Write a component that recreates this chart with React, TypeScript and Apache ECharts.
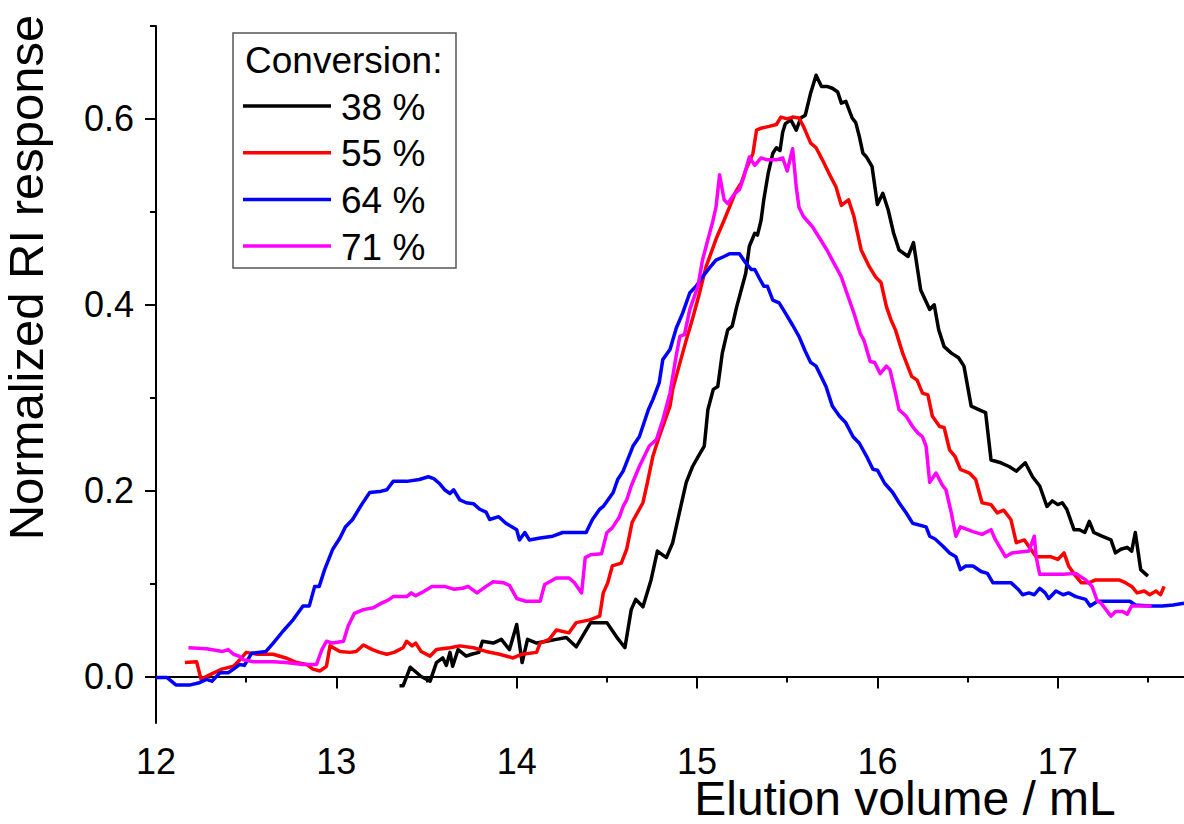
import React, { useEffect, useRef } from "react";
import * as echarts from "echarts";

const FONT = "'Liberation Sans', Arial, sans-serif";

const seriesNames = ["38 %", "55 %", "64 %", "71 %"];
const seriesColors = ["#000000", "#ff0000", "#0000ff", "#ff00ff"];

const xMajorTicks = [12, 13, 14, 15, 16, 17];
const xMinorTicks = [12.5, 13.5, 14.5, 15.5, 16.5, 17.5];
const yMajorTicks = [0, 0.2, 0.4, 0.6];
const yMinorTicks = [0.1, 0.3, 0.5, 0.7];

const conv38: [number, number][] = [
  [13.35, -0.01], [13.37, -0.01], [13.41, 0.01], [13.47, 0.0], [13.52, -0.005], [13.555, 0.015],
  [13.59, 0.02], [13.61, 0.012], [13.63, 0.026], [13.645, 0.011], [13.675, 0.029], [13.72, 0.022],
  [13.75, 0.024], [13.79, 0.026], [13.81, 0.038], [13.87, 0.036], [13.915, 0.04], [13.96, 0.029],
  [14.0, 0.056], [14.03, 0.015], [14.06, 0.04], [14.11, 0.036], [14.165, 0.038], [14.22, 0.04],
  [14.275, 0.042], [14.33, 0.032], [14.385, 0.05], [14.41, 0.058], [14.5, 0.058], [14.56, 0.041],
  [14.6, 0.031], [14.635, 0.072], [14.66, 0.083], [14.7, 0.075], [14.745, 0.104], [14.78, 0.135],
  [14.83, 0.128], [14.865, 0.144], [14.89, 0.166], [14.94, 0.209], [14.975, 0.226], [15.01, 0.238],
  [15.04, 0.248], [15.06, 0.287], [15.09, 0.309], [15.115, 0.312], [15.14, 0.348], [15.17, 0.373],
  [15.195, 0.377], [15.22, 0.398], [15.27, 0.434], [15.29, 0.463], [15.32, 0.477], [15.335, 0.475],
  [15.355, 0.491], [15.37, 0.513], [15.395, 0.542], [15.42, 0.563], [15.44, 0.569], [15.46, 0.566],
  [15.475, 0.586], [15.49, 0.595], [15.52, 0.599], [15.55, 0.588], [15.575, 0.601], [15.6, 0.604],
  [15.63, 0.628], [15.66, 0.647], [15.69, 0.635], [15.72, 0.635], [15.75, 0.633], [15.78, 0.629],
  [15.8, 0.617], [15.825, 0.619], [15.86, 0.601], [15.88, 0.596], [15.9, 0.581], [15.92, 0.563],
  [15.94, 0.559], [15.97, 0.549], [16.0, 0.508], [16.03, 0.52], [16.06, 0.502], [16.09, 0.477],
  [16.12, 0.459], [16.17, 0.452], [16.2, 0.467], [16.24, 0.416], [16.29, 0.395], [16.315, 0.4],
  [16.34, 0.373], [16.37, 0.355], [16.41, 0.348], [16.45, 0.343], [16.48, 0.334], [16.52, 0.291],
  [16.565, 0.287], [16.6, 0.284], [16.63, 0.233], [16.685, 0.23], [16.73, 0.226], [16.77, 0.221],
  [16.82, 0.23], [16.86, 0.215], [16.9, 0.205], [16.94, 0.183], [16.97, 0.189], [17.0, 0.185],
  [17.025, 0.187], [17.05, 0.18], [17.09, 0.158], [17.12, 0.158], [17.15, 0.155], [17.175, 0.167],
  [17.2, 0.155], [17.245, 0.151], [17.295, 0.147], [17.32, 0.133], [17.35, 0.137], [17.385, 0.139],
  [17.41, 0.135], [17.43, 0.155], [17.46, 0.115], [17.5, 0.108],
];

const conv55: [number, number][] = [
  [12.16, 0.015], [12.225, 0.016], [12.25, -0.003], [12.3, 0.002], [12.365, 0.008], [12.43, 0.011],
  [12.465, 0.018], [12.5, 0.026], [12.56, 0.024], [12.65, 0.024], [12.72, 0.02], [12.78, 0.015],
  [12.835, 0.013], [12.87, 0.008], [12.91, 0.006], [12.945, 0.011], [12.965, 0.033], [13.02, 0.027],
  [13.075, 0.026], [13.11, 0.027], [13.15, 0.034], [13.2, 0.029], [13.24, 0.026], [13.28, 0.024],
  [13.32, 0.026], [13.37, 0.031], [13.39, 0.038], [13.42, 0.033], [13.44, 0.036], [13.47, 0.027],
  [13.52, 0.022], [13.555, 0.029], [13.63, 0.031], [13.685, 0.033], [13.76, 0.031], [13.83, 0.027],
  [13.905, 0.024], [13.98, 0.02], [14.03, 0.024], [14.11, 0.026], [14.13, 0.036], [14.18, 0.04],
  [14.22, 0.05], [14.29, 0.047], [14.33, 0.058], [14.405, 0.061], [14.46, 0.065], [14.48, 0.09],
  [14.505, 0.101], [14.53, 0.119], [14.58, 0.122], [14.61, 0.137], [14.64, 0.166], [14.7, 0.187],
  [14.725, 0.209], [14.755, 0.237], [14.79, 0.258], [14.85, 0.291], [14.865, 0.309], [14.9, 0.334],
  [14.94, 0.362], [14.975, 0.385], [15.01, 0.41], [15.05, 0.441], [15.11, 0.473], [15.15, 0.491],
  [15.19, 0.51], [15.215, 0.522], [15.245, 0.531], [15.27, 0.545], [15.31, 0.563], [15.33, 0.588],
  [15.355, 0.59], [15.4, 0.592], [15.44, 0.594], [15.465, 0.602], [15.5, 0.6], [15.53, 0.602],
  [15.565, 0.601], [15.59, 0.592], [15.63, 0.574], [15.66, 0.569], [15.695, 0.556], [15.73, 0.542],
  [15.77, 0.527], [15.8, 0.507], [15.84, 0.513], [15.87, 0.495], [15.91, 0.459], [15.955, 0.441],
  [15.99, 0.43], [16.02, 0.424], [16.05, 0.398], [16.075, 0.384], [16.1, 0.373], [16.14, 0.348],
  [16.19, 0.323], [16.22, 0.319], [16.25, 0.305], [16.28, 0.303], [16.305, 0.28], [16.345, 0.269],
  [16.37, 0.268], [16.4, 0.244], [16.43, 0.237], [16.46, 0.223], [16.51, 0.219], [16.545, 0.212],
  [16.58, 0.187], [16.63, 0.185], [16.665, 0.176], [16.7, 0.179], [16.74, 0.169], [16.77, 0.144],
  [16.815, 0.147], [16.84, 0.14], [16.88, 0.129], [16.96, 0.129], [17.0, 0.126], [17.035, 0.133],
  [17.06, 0.119], [17.1, 0.108], [17.13, 0.101], [17.175, 0.101], [17.21, 0.104], [17.295, 0.104],
  [17.34, 0.104], [17.375, 0.101], [17.41, 0.097], [17.44, 0.09], [17.48, 0.092], [17.51, 0.088],
  [17.545, 0.092], [17.57, 0.088], [17.59, 0.097],
];

const conv64: [number, number][] = [
  [12.0, -0.001], [12.06, -0.001], [12.11, -0.009], [12.19, -0.009], [12.235, -0.007], [12.28, -0.003],
  [12.31, -0.005], [12.355, 0.004], [12.4, 0.004], [12.43, 0.008], [12.465, 0.013], [12.49, 0.012],
  [12.53, 0.025], [12.61, 0.027], [12.65, 0.036], [12.705, 0.049], [12.76, 0.061], [12.815, 0.076],
  [12.85, 0.076], [12.88, 0.097], [12.905, 0.097], [12.935, 0.115], [12.98, 0.137], [13.02, 0.149],
  [13.05, 0.161], [13.09, 0.169], [13.14, 0.185], [13.185, 0.198], [13.24, 0.199], [13.28, 0.201],
  [13.315, 0.21], [13.39, 0.21], [13.46, 0.212], [13.51, 0.215], [13.54, 0.213], [13.57, 0.208],
  [13.6, 0.201], [13.63, 0.197], [13.65, 0.201], [13.685, 0.19], [13.72, 0.187], [13.76, 0.186],
  [13.795, 0.18], [13.83, 0.177], [13.85, 0.169], [13.9, 0.172], [13.94, 0.165], [14.0, 0.158],
  [14.015, 0.147], [14.045, 0.155], [14.07, 0.147], [14.13, 0.149], [14.2, 0.151], [14.255, 0.155],
  [14.32, 0.155], [14.385, 0.155], [14.42, 0.169], [14.46, 0.18], [14.48, 0.183], [14.535, 0.198],
  [14.56, 0.212], [14.59, 0.221], [14.645, 0.248], [14.68, 0.258], [14.73, 0.287], [14.755, 0.298],
  [14.79, 0.316], [14.81, 0.341], [14.85, 0.352], [14.885, 0.375], [14.92, 0.391], [14.96, 0.413],
  [14.995, 0.42], [15.03, 0.43], [15.07, 0.44], [15.105, 0.448], [15.15, 0.452], [15.18, 0.455],
  [15.235, 0.455], [15.27, 0.445], [15.3, 0.438], [15.32, 0.438], [15.35, 0.427], [15.37, 0.42],
  [15.39, 0.42], [15.42, 0.405], [15.455, 0.402], [15.49, 0.391], [15.53, 0.378], [15.565, 0.366],
  [15.6, 0.35], [15.63, 0.338], [15.66, 0.334], [15.715, 0.312], [15.75, 0.291], [15.79, 0.28],
  [15.825, 0.273], [15.865, 0.258], [15.9, 0.251], [15.94, 0.237], [15.975, 0.223], [16.0, 0.222],
  [16.04, 0.208], [16.085, 0.198], [16.12, 0.187], [16.16, 0.176], [16.195, 0.165], [16.27, 0.161],
  [16.29, 0.151], [16.32, 0.148], [16.365, 0.14], [16.4, 0.133], [16.435, 0.129], [16.46, 0.115],
  [16.49, 0.119], [16.53, 0.119], [16.575, 0.113], [16.61, 0.111], [16.64, 0.101], [16.74, 0.101],
  [16.78, 0.094], [16.805, 0.088], [16.84, 0.09], [16.87, 0.088], [16.9, 0.095], [16.93, 0.09],
  [16.95, 0.084], [16.99, 0.092], [17.03, 0.088], [17.06, 0.09], [17.1, 0.086], [17.155, 0.083],
  [17.18, 0.076], [17.22, 0.081], [17.285, 0.081], [17.4, 0.081], [17.43, 0.077], [17.51, 0.076],
  [17.58, 0.076], [17.64, 0.077], [17.7, 0.079],
];

const conv71: [number, number][] = [
  [12.18, 0.031], [12.28, 0.03], [12.37, 0.027], [12.4, 0.029], [12.43, 0.024], [12.46, 0.022],
  [12.485, 0.018], [12.54, 0.016], [12.65, 0.016], [12.72, 0.015], [12.815, 0.013], [12.89, 0.013],
  [12.92, 0.029], [12.945, 0.038], [12.98, 0.036], [13.04, 0.038], [13.065, 0.054], [13.1, 0.068],
  [13.15, 0.072], [13.205, 0.074], [13.25, 0.079], [13.285, 0.082], [13.315, 0.086], [13.39, 0.086],
  [13.415, 0.09], [13.44, 0.087], [13.47, 0.09], [13.53, 0.097], [13.57, 0.097], [13.6, 0.097],
  [13.65, 0.094], [13.7, 0.095], [13.73, 0.097], [13.78, 0.09], [13.83, 0.097], [13.87, 0.102],
  [13.925, 0.101], [13.96, 0.098], [14.0, 0.084], [14.05, 0.081], [14.13, 0.081], [14.155, 0.099],
  [14.22, 0.106], [14.29, 0.106], [14.32, 0.101], [14.36, 0.09], [14.38, 0.128], [14.41, 0.131],
  [14.47, 0.132], [14.5, 0.155], [14.53, 0.16], [14.57, 0.172], [14.59, 0.183], [14.61, 0.19],
  [14.635, 0.205], [14.68, 0.226], [14.735, 0.248], [14.775, 0.255], [14.81, 0.276], [14.85, 0.305],
  [14.885, 0.346], [14.905, 0.366], [14.93, 0.368], [14.96, 0.395], [15.005, 0.42], [15.03, 0.448],
  [15.06, 0.47], [15.085, 0.488], [15.105, 0.505], [15.125, 0.54], [15.15, 0.513], [15.17, 0.509],
  [15.21, 0.52], [15.235, 0.524], [15.26, 0.538], [15.29, 0.559], [15.32, 0.55], [15.355, 0.558],
  [15.39, 0.556], [15.44, 0.556], [15.475, 0.558], [15.5, 0.544], [15.53, 0.568], [15.55, 0.527],
  [15.565, 0.505], [15.59, 0.495], [15.64, 0.484], [15.685, 0.47], [15.72, 0.459], [15.75, 0.448],
  [15.8, 0.43], [15.83, 0.413], [15.87, 0.391], [15.905, 0.369], [15.925, 0.362], [15.96, 0.339],
  [15.985, 0.338], [16.015, 0.326], [16.05, 0.334], [16.07, 0.33], [16.1, 0.305], [16.12, 0.287],
  [16.16, 0.28], [16.195, 0.269], [16.225, 0.262], [16.25, 0.258], [16.27, 0.248], [16.29, 0.209],
  [16.325, 0.219], [16.36, 0.206], [16.38, 0.201], [16.41, 0.176], [16.435, 0.151], [16.46, 0.161],
  [16.53, 0.156], [16.58, 0.153], [16.63, 0.158], [16.655, 0.147], [16.71, 0.129], [16.745, 0.133],
  [16.84, 0.135], [16.87, 0.151], [16.88, 0.129], [16.9, 0.11], [17.03, 0.11], [17.1, 0.111],
  [17.155, 0.104], [17.19, 0.097], [17.22, 0.081], [17.24, 0.079], [17.295, 0.065], [17.32, 0.07],
  [17.36, 0.07], [17.385, 0.067], [17.41, 0.076], [17.465, 0.076], [17.52, 0.076],
];

const seriesData = [conv38, conv55, conv64, conv71];

export default function App() {
  const ref = useRef<HTMLDivElement>(null);

  useEffect(() => {
    if (!ref.current) return;
    const chart = echarts.init(ref.current, undefined, { renderer: "svg" });

    const legendTop = 33;
    const legendLeft = 233;
    const itemY0 = 106;
    const itemStep = 46.7;

    const legendGraphics: any[] = [
      {
        type: "rect",
        shape: { x: legendLeft, y: legendTop, width: 223, height: 235 },
        style: { fill: "#ffffff", stroke: "#555555", lineWidth: 1.5 },
        z: 100,
      },
      {
        type: "text",
        x: 245,
        y: 60,
        style: {
          text: "Conversion:",
          font: `37px ${FONT}`,
          fill: "#000",
          textVerticalAlign: "middle",
          verticalAlign: "middle",
        },
        z: 101,
      },
    ];
    seriesNames.forEach((name, i) => {
      const y = itemY0 + i * itemStep;
      legendGraphics.push({
        type: "line",
        shape: { x1: 243, y1: y, x2: 331, y2: y },
        style: { stroke: seriesColors[i], lineWidth: 3.5 },
        z: 101,
      });
      legendGraphics.push({
        type: "text",
        x: 341,
        y: y + 1,
        style: {
          text: name,
          font: `37px ${FONT}`,
          fill: "#000",
          verticalAlign: "middle",
          textVerticalAlign: "middle",
        },
        z: 101,
      });
    });

    const axisLineStyle = { color: "#000", width: 2 };

    chart.setOption({
      animation: false,
      backgroundColor: "#ffffff",
      grid: {
        left: 156,
        right: 0,
        top: 26,
        bottom: 101,
        containLabel: false,
        outerBoundsMode: "none",
      },
      xAxis: [
        {
          type: "value",
          min: 12,
          max: 17.7,
          position: "bottom",
          name: "Elution volume / mL",
          nameLocation: "middle",
          nameGap: 55,
          nameMoveOverlap: false,
          nameTextStyle: {
            fontFamily: FONT,
            fontSize: 48,
            lineHeight: 40,
            color: "#000",
            padding: [0, 0, 0, 470],
            verticalAlign: "top",
          },
          axisLine: { show: true, lineStyle: axisLineStyle },
          axisTick: { show: true, length: 12, lineStyle: axisLineStyle, customValues: xMajorTicks },
          axisLabel: {
            show: true,
            customValues: xMajorTicks,
            fontFamily: FONT,
            fontSize: 36,
            lineHeight: 30,
            color: "#000",
            margin: 23,
            formatter: (v: number) => String(v),
          },
          splitLine: { show: false },
        },
        {
          type: "value",
          min: 12,
          max: 17.7,
          position: "bottom",
          axisLine: { show: false },
          axisTick: { show: true, length: 6, lineStyle: axisLineStyle, customValues: xMinorTicks },
          axisLabel: { show: false },
          splitLine: { show: false },
        },
      ],
      yAxis: [
        {
          type: "value",
          min: -0.05,
          max: 0.7,
          position: "left",
          name: "Normalized RI response",
          nameLocation: "middle",
          nameGap: 106,
          nameMoveOverlap: false,
          nameRotate: 90,
          nameTextStyle: {
            fontFamily: FONT,
            fontSize: 49,
            color: "#000",
            padding: [0, 0, 0, 194],
          },
          axisLine: { show: true, lineStyle: axisLineStyle },
          axisTick: { show: true, length: 11, lineStyle: axisLineStyle, customValues: yMajorTicks },
          axisLabel: {
            show: true,
            customValues: yMajorTicks,
            fontFamily: FONT,
            fontSize: 36,
            color: "#000",
            margin: 22,
            formatter: (v: number) => v.toFixed(1),
          },
          splitLine: { show: false },
        },
        {
          type: "value",
          min: -0.05,
          max: 0.7,
          position: "left",
          axisLine: { show: false },
          axisTick: { show: true, length: 6, lineStyle: axisLineStyle, customValues: yMinorTicks },
          axisLabel: { show: false },
          splitLine: { show: false },
        },
      ],
      series: seriesData.map((d, i) => ({
        name: seriesNames[i],
        type: "line",
        xAxisIndex: 0,
        yAxisIndex: 0,
        data: d,
        showSymbol: false,
        symbol: "none",
        lineStyle: { color: seriesColors[i], width: 3.5, join: "round" },
        itemStyle: { color: seriesColors[i] },
        z: 2 + i,
      })),
      graphic: legendGraphics,
    });

    return () => chart.dispose();
  }, []);

  return (
    <div
      ref={ref}
      style={{ position: "fixed", left: 0, top: 0, width: 1184, height: 824, background: "#fff" }}
    />
  );
}
